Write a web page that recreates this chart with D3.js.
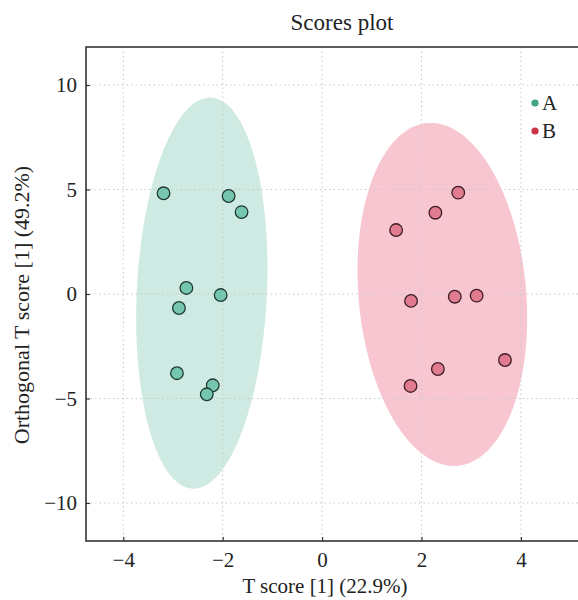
<!DOCTYPE html>
<html>
<head>
<meta charset="utf-8">
<script src="https://cdn.jsdelivr.net/npm/d3@7"></script>
<style>
  html, body { margin: 0; padding: 0; background: #fff; }
  svg { display: block; }
  text { font-family: "Liberation Serif", "DejaVu Serif", serif; fill: #222; }
</style>
</head>
<body>
<svg id="chart" width="578" height="600"></svg>
<script>
// ---- data ----
const groups = ["A", "B"];
const groupAX = [-3.19, -1.88, -1.62, -2.73, -2.04, -2.88, -2.92, -2.20, -2.32];
const groupAY = [4.82, 4.69, 3.92, 0.29, -0.05, -0.67, -3.79, -4.37, -4.80];
const groupBX = [2.74, 2.28, 1.49, 1.79, 2.67, 3.11, 3.68, 2.33, 1.78];
const groupBY = [4.85, 3.89, 3.06, -0.33, -0.13, -0.08, -3.16, -3.59, -4.40];
// confidence ellipses: centre x, centre y, semi-major, semi-minor, angle (deg, data space)
const ellipseCX = [-2.42, 2.42];
const ellipseCY = [0.04, -0.02];
const ellipseA = [9.36, 8.21];
const ellipseB = [1.31, 1.69];
const ellipseAngle = [88.96, 91.7];
const xTicks = [-4, -2, 0, 2, 4];
const yTicks = [-10, -5, 0, 5, 10];
const title = "Scores plot";
const xLabel = "T score [1] (22.9%)";
const yLabel = "Orthogonal T score [1] (49.2%)";

// ---- styles ----
const ellipseFill = ["#9fd6c5", "#f08da3"];
const pointFill = ["#76c6ae", "#e07b90"];
const pointStroke = ["#1f3a33", "#3e1d24"];
const legendColor = ["#3fa585", "#cc3346"];

const svg = d3.select("#chart");
const pLeft = 86, pTop = 47, pBottom = 541;
const x = d3.scaleLinear().domain([-4.75, 5.4]).range([pLeft, pLeft + 10.15 * 49.7]);
const y = d3.scaleLinear().domain([-11.82, 11.82]).range([pBottom, pTop]);
const pRight = x.range()[1];

svg.append("clipPath").attr("id", "plotclip")
  .append("rect").attr("x", pLeft).attr("y", pTop).attr("width", pRight - pLeft).attr("height", pBottom - pTop);

const plot = svg.append("g").attr("clip-path", "url(#plotclip)");

// ellipses
const line = d3.line().x(d => x(d[0])).y(d => y(d[1])).curve(d3.curveLinearClosed);
groups.forEach((g, i) => {
  const th = ellipseAngle[i] * Math.PI / 180;
  const pts = d3.range(0, 200).map(k => {
    const t = k / 200 * 2 * Math.PI;
    const u = ellipseA[i] * Math.cos(t), v = ellipseB[i] * Math.sin(t);
    return [ellipseCX[i] + u * Math.cos(th) - v * Math.sin(th),
            ellipseCY[i] + u * Math.sin(th) + v * Math.cos(th)];
  });
  plot.append("path").attr("d", line(pts))
    .attr("fill", ellipseFill[i]).attr("fill-opacity", 0.5).attr("stroke", "none");
});

// grid
plot.append("g").selectAll("line").data(xTicks).join("line")
  .attr("x1", d => x(d)).attr("x2", d => x(d)).attr("y1", pTop).attr("y2", pBottom)
  .attr("stroke", "#c8c8c8").attr("stroke-width", 1).attr("stroke-dasharray", "1.5,3");
plot.append("g").selectAll("line").data(yTicks).join("line")
  .attr("y1", d => y(d)).attr("y2", d => y(d)).attr("x1", pLeft).attr("x2", pRight)
  .attr("stroke", "#c8c8c8").attr("stroke-width", 1).attr("stroke-dasharray", "1.5,3");

// points
const series = [
  d3.zip(groupAX, groupAY),
  d3.zip(groupBX, groupBY)
];
series.forEach((s, i) => {
  plot.append("g").selectAll("circle").data(s).join("circle")
    .attr("cx", d => x(d[0])).attr("cy", d => y(d[1])).attr("r", 6.3)
    .attr("fill", pointFill[i]).attr("stroke", pointStroke[i]).attr("stroke-width", 1.3);
});

// frame
svg.append("rect").attr("x", pLeft).attr("y", pTop).attr("width", pRight - pLeft).attr("height", pBottom - pTop)
  .attr("fill", "none").attr("stroke", "#333").attr("stroke-width", 1.6);

// axes (ticks inward)
const fmt = d3.format("");
const xAxis = d3.axisBottom(x).tickValues(xTicks).tickSize(-4).tickPadding(11).tickFormat(fmt);
const gx = svg.append("g").attr("transform", `translate(0,${pBottom})`).call(xAxis);
gx.select(".domain").remove();
gx.selectAll(".tick line").attr("stroke", "#333").attr("stroke-width", 1.2);
gx.selectAll(".tick text").attr("font-size", 21).attr("font-family", "Liberation Serif").attr("fill", "#222");

const yAxis = d3.axisLeft(y).tickValues(yTicks).tickSize(-4).tickPadding(9).tickFormat(fmt);
const gy = svg.append("g").attr("transform", `translate(${pLeft},0)`).call(yAxis);
gy.select(".domain").remove();
gy.selectAll(".tick line").attr("stroke", "#333").attr("stroke-width", 1.2);
gy.selectAll(".tick text").attr("font-size", 21).attr("font-family", "Liberation Serif").attr("fill", "#222");

// titles
svg.append("text").attr("x", 342).attr("y", 30).attr("text-anchor", "middle")
  .attr("font-size", 23).text(title);
svg.append("text").attr("x", 325).attr("y", 593).attr("text-anchor", "middle")
  .attr("font-size", 21).text(xLabel);
svg.append("text").attr("transform", `translate(29,305) rotate(-90)`)
  .attr("text-anchor", "middle").attr("font-size", 22).text(yLabel);

// legend
groups.forEach((g, i) => {
  const ly = 103 + i * 28;
  svg.append("circle").attr("cx", 535).attr("cy", ly).attr("r", 3.6).attr("fill", legendColor[i]);
  svg.append("text").attr("x", 542).attr("y", ly + 7).attr("font-size", 21).text(g);
});
</script>
</body>
</html>
